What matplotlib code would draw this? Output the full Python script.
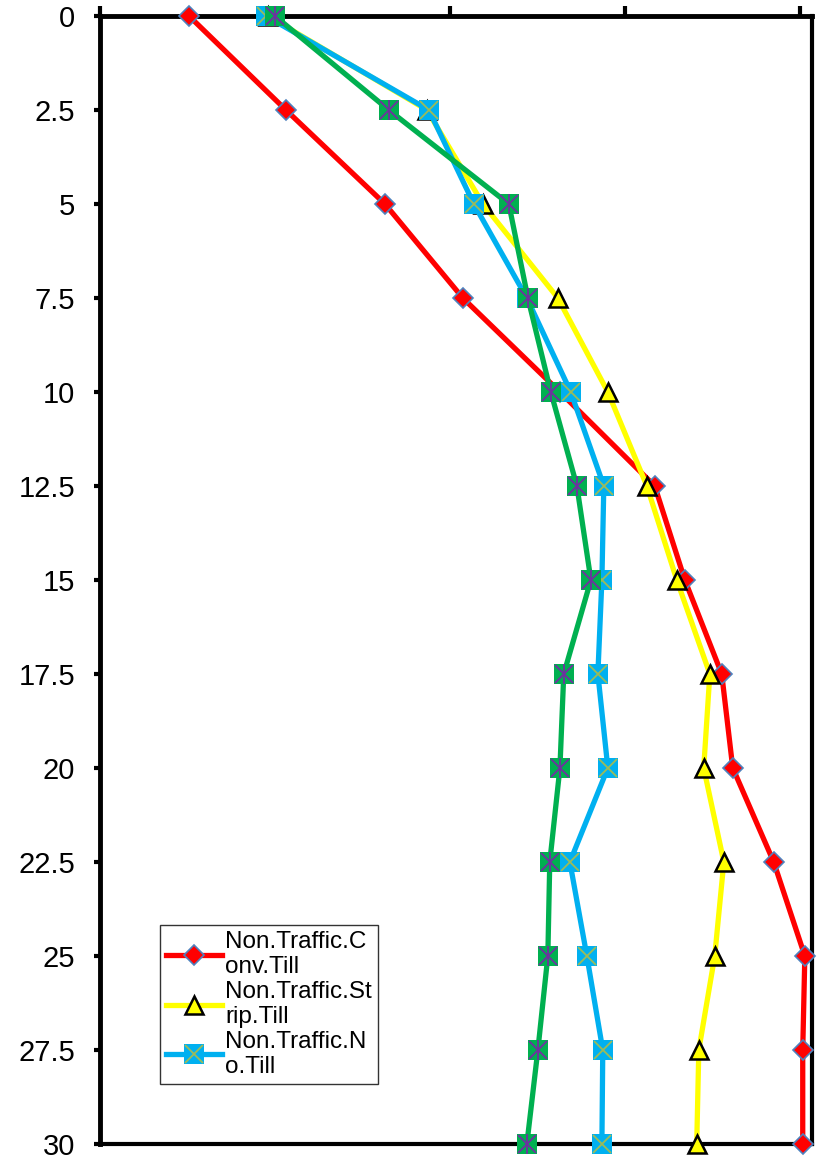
import matplotlib.pyplot as plt
from matplotlib.ticker import FuncFormatter
from matplotlib.legend_handler import HandlerTuple

plt.rcParams['font.family'] = ['Liberation Sans', 'DejaVu Sans']

# depth (cm) and readings for each treatment
depth = [0, 2.5, 5, 7.5, 10, 12.5, 15, 17.5, 20, 22.5, 25, 27.5, 30]
conv_till = [5.09, 10.63, 16.29, 20.74, 26.29, 31.71, 33.43, 35.54, 36.17, 38.51, 40.29, 40.17, 40.17]
strip_till = [9.6, 18.69, 21.89, 26.17, 29.03, 31.26, 32.97, 34.86, 34.51, 35.66, 35.14, 34.23, 34.11]
no_till = [9.49, 18.8, 21.37, 24.4, 26.91, 28.8, 28.69, 28.46, 29.03, 26.86, 27.83, 28.74, 28.69]
traffic_till = [10.0, 16.51, 23.37, 24.46, 25.77, 27.26, 28.06, 26.51, 26.29, 25.71, 25.6, 25.03, 24.4]

labels = ["Non.Traffic.C\nonv.Till", "Non.Traffic.St\nrip.Till", "Non.Traffic.N\no.Till"]

fig = plt.figure(figsize=(8.36, 11.6), dpi=100)
ax = fig.add_axes([0.1196, 0.0138, 0.8517, 0.9724])

lw = 3.8
red, = ax.plot(conv_till, depth, color="#FF0000", lw=lw, marker="D", ms=10,
               mfc="#FF0000", mec="#4F81BD", mew=1.2, zorder=3, clip_on=False)
yel, = ax.plot(strip_till, depth, color="#FFFF00", lw=lw, marker="^", ms=13.5,
               mfc="#FFFF00", mec="black", mew=1.8, zorder=4, clip_on=False)
blu, = ax.plot(no_till, depth, color="#00B0F0", lw=lw, marker="s", ms=14.5,
               mfc="#00B0F0", mec="#00B0F0", mew=0, zorder=5, clip_on=False)
blu_x, = ax.plot(no_till, depth, ls="none", marker="x", ms=13,
                 mec="#9BBB59", mew=1.3, zorder=5, clip_on=False)
ax.plot(traffic_till, depth, color="#00B050", lw=lw, marker="s", ms=14.5,
        mfc="#00B050", mec="#00B050", mew=0, zorder=6, clip_on=False)
ax.plot(traffic_till, depth, ls="none", marker="x", ms=13,
        mec="#7030A0", mew=1.3, zorder=6, clip_on=False)
ax.plot(traffic_till, depth, ls="none", marker="|", ms=15,
        mec="#7030A0", mew=1.3, zorder=6, clip_on=False)

ax.set_ylim(30, 0)
ax.set_xlim(0, 40.7)
ax.set_yticks(depth)
ax.yaxis.set_major_formatter(FuncFormatter(lambda v, p: f"{v:g}"))
ax.set_xticks([0, 10, 20, 30, 40])
ax.xaxis.tick_top()
ax.tick_params(axis="x", direction="out", length=7, width=3, labeltop=False)
ax.tick_params(axis="y", direction="out", length=4, width=3, labelsize=21, pad=14)
for s in ax.spines.values():
    s.set_linewidth(3.5)
    s.set_zorder(2)
for s in ["right", "bottom"]:
    ax.spines[s].set_linewidth(3)

leg = ax.legend([red, yel, (blu, blu_x)], labels,
                handler_map={tuple: HandlerTuple(ndivide=1, pad=0)},
                loc="lower left", bbox_to_anchor=(0.084, 0.053),
                fontsize=17.5, frameon=True, fancybox=False, edgecolor="black",
                handlelength=2.3, handletextpad=0.15, labelspacing=0.1,
                borderpad=0.25, borderaxespad=0, numpoints=1)
leg.get_frame().set_linewidth(1.0)
leg.set_zorder(10)

fig.savefig("out.png", dpi=100)
